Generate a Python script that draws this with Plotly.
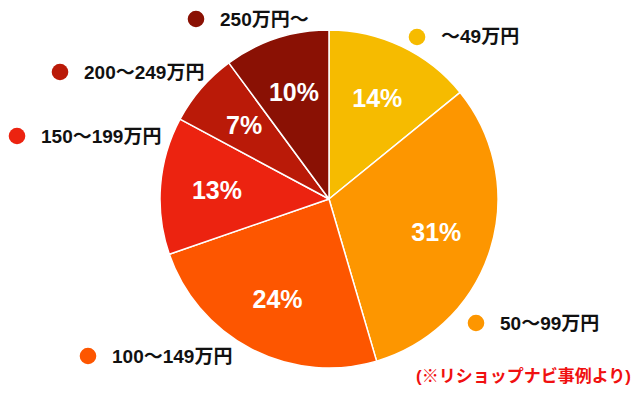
import math
import plotly.graph_objects as go

categories = ["〜49万円", "50〜99万円", "100〜149万円", "150〜199万円", "200〜249万円", "250万円〜"]
values = [14, 31, 24, 13, 7, 10]
colors = ["#F6BB00", "#FD9600", "#FD5600", "#EC2310", "#BA1A08", "#8A1104"]

# label anchor positions (screen pixel coords) for the outside legend-like labels
label_pos = [(417, 37), (476, 323), (88, 356), (17, 136), (60, 72), (196, 19)]

W, H = 640, 399
OFF = 8  # page body margin
CX, CY, R = 329, 199, 169  # pie centre / radius on screen
TF = 0.665  # radial position of percentage labels (fraction of radius)


def px(x):
    return (x - OFF) / W


def py(y):
    return 1 - (y - OFF) / H


def dom(r):
    return dict(x=[px(CX - r), px(CX + r)], y=[py(CY + r), py(CY - r)])


fig = go.Figure()
fig.add_trace(go.Pie(
    labels=categories,
    values=values,
    textinfo="none",
    marker=dict(colors=colors, line=dict(color="white", width=1.5)),
    sort=False,
    direction="clockwise",
    rotation=0,
    hoverinfo="skip",
    domain=dom(R),
    showlegend=False,
))

# one transparent text-only pie per slice so every percentage sits at the same radius
total = sum(values)
hole = 2 * TF - 1
for i, v in enumerate(values):
    half = math.pi * v / total
    s = math.sin(min(half, math.pi / 2))
    c = max(1 / (1 + s), TF)
    ri = R * TF / c
    fig.add_trace(go.Pie(
        labels=categories,
        values=values,
        text=[f"{vv}%" if j == i else "" for j, vv in enumerate(values)],
        texttemplate="<b>%{text}</b>",
        textposition="inside",
        insidetextorientation="horizontal",
        insidetextfont=dict(family="Liberation Sans, Arial, sans-serif", size=25, color="white"),
        marker=dict(colors=["rgba(0,0,0,0)"] * len(values), line=dict(width=0)),
        hole=hole,
        sort=False,
        direction="clockwise",
        rotation=0,
        hoverinfo="skip",
        domain=dom(ri),
        showlegend=False,
    ))

anns = []
shapes = []
for (x, y), lab, col in zip(label_pos, categories, colors):
    shapes.append(dict(type="circle", xref="paper", yref="paper",
                       xsizemode="pixel", ysizemode="pixel",
                       xanchor=px(x), yanchor=py(y),
                       x0=-8.3, x1=8.3, y0=-8.3, y1=8.3,
                       fillcolor=col, line=dict(width=0)))
    anns.append(dict(x=px(x + 22), y=py(y), xref="paper", yref="paper",
                     text=f"<b>{lab}</b>", showarrow=False, xanchor="left", yanchor="middle",
                     font=dict(size=19, color="#111111",
                               family="Liberation Sans, Noto Sans CJK JP, sans-serif")))
anns.append(dict(x=px(633), y=py(376), xref="paper", yref="paper",
                 text="<b>(※リショップナビ事例より)</b>", showarrow=False,
                 xanchor="right", yanchor="middle",
                 font=dict(size=17, color="#F01010",
                           family="Liberation Sans, Noto Sans CJK JP, sans-serif")))

fig.update_layout(
    width=W, height=H,
    margin=dict(l=0, r=0, t=0, b=0),
    paper_bgcolor="white",
    plot_bgcolor="white",
    annotations=anns,
    shapes=shapes,
    font=dict(family="Liberation Sans, Noto Sans CJK JP, sans-serif"),
)
fig.write_html("out.html")
